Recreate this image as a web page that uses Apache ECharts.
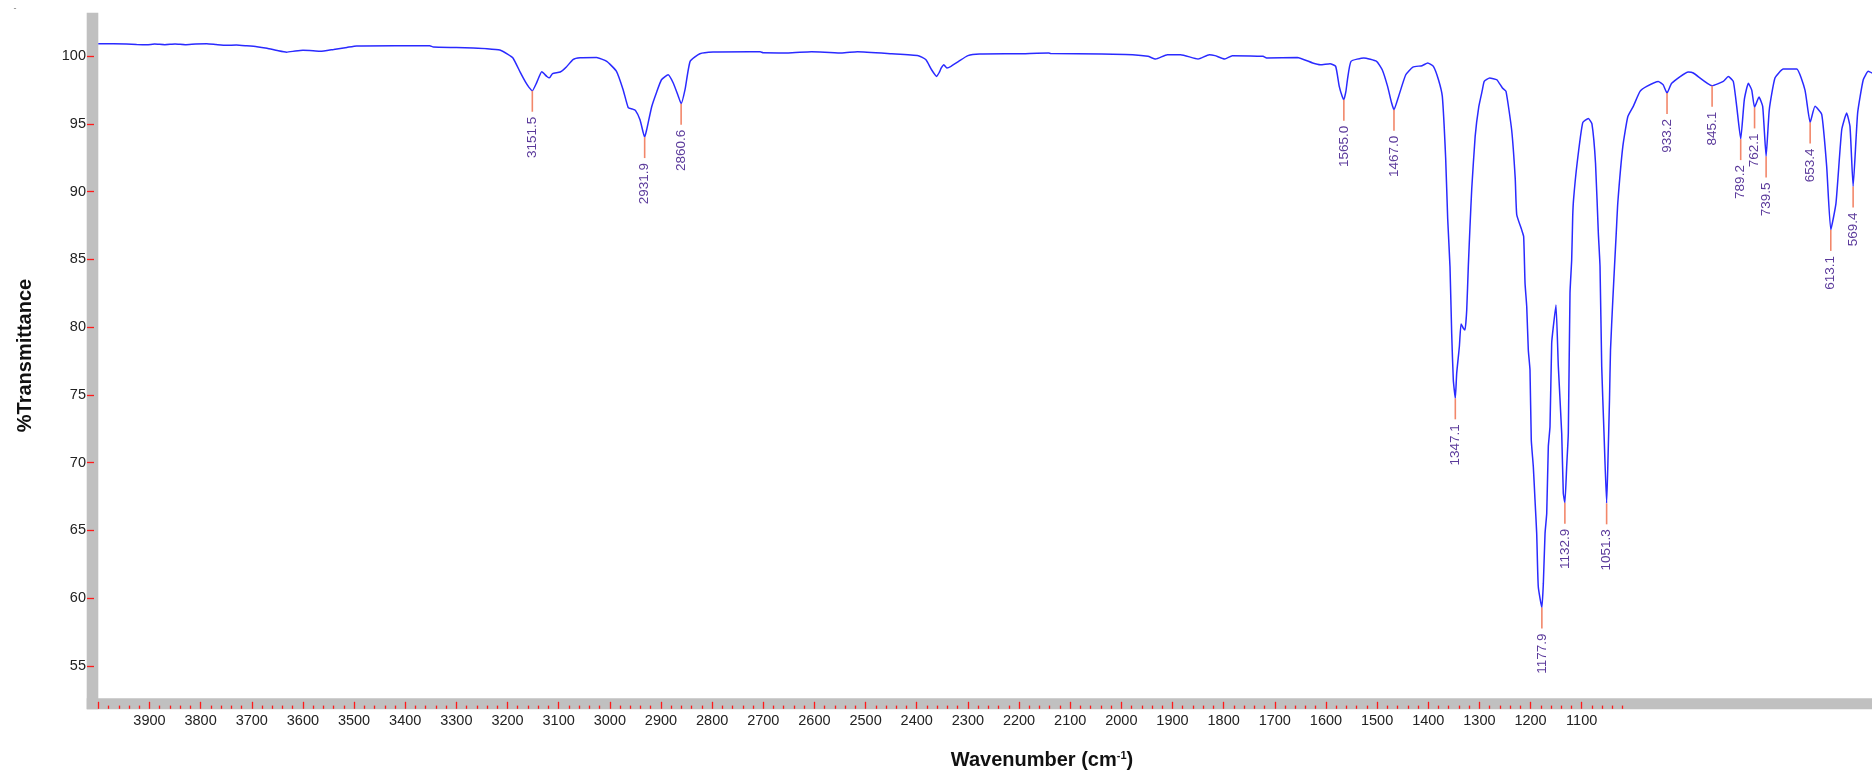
<!DOCTYPE html>
<html>
<head>
<meta charset="utf-8">
<script src="https://cdn.jsdelivr.net/npm/echarts@6/dist/echarts.min.js"></script>
<style>
  html, body { margin: 0; padding: 0; background: #fff; }
  #chart { width: 1872px; height: 776px; }
</style>
</head>
<body>
<div id="chart"></div>
<script>
// ---- data (wavenumber cm-1, %T) ----
const spectrumPoints = [
  [4000,100.92],[3970,100.92],[3945,100.9],[3925,100.86],[3905,100.84],[3890,100.9],[3870,100.85],[3850,100.9],
  [3830,100.85],[3810,100.9],[3788,100.92],[3770,100.86],[3750,100.8],[3730,100.83],[3710,100.77],[3690,100.7],
  [3670,100.58],[3650,100.42],[3632,100.3],[3615,100.38],[3600,100.43],[3580,100.4],[3566,100.36],[3540,100.5],
  [3514,100.65],[3495,100.76],[3420,100.78],[3352,100.77],[3345,100.68],[3300,100.64],[3267,100.6],[3240,100.55],
  [3215,100.45],[3200,100.15],[3189,99.85],[3175,98.8],[3165,98.1],[3158,97.7],[3151.5,97.45],[3143,98.05],
  [3133,98.85],[3123,98.5],[3118,98.4],[3112,98.72],[3097,98.83],[3085,99.2],[3072,99.75],[3058,99.88],
  [3026,99.9],[3006,99.62],[2987,98.88],[2974,97.53],[2964,96.2],[2956,96.1],[2950,96.0],[2941,95.31],
  [2935,94.4],[2931.9,94.03],[2928,94.57],[2918,96.29],[2908,97.4],[2899,98.26],[2886,98.63],[2876,98.02],
  [2866,97.03],[2860.6,96.49],[2853,97.53],[2843,99.62],[2824,100.18],[2798,100.31],[2726,100.33],[2706,100.32],
  [2700,100.25],[2651,100.24],[2606,100.33],[2580,100.3],[2546,100.24],[2516,100.33],[2449,100.18],[2397,100.04],
  [2382,99.74],[2371,99.0],[2361,98.51],[2356,98.8],[2352,99.13],[2347,99.37],[2341,99.13],[2333,99.25],
  [2318,99.62],[2300,100.04],[2277,100.16],[2202,100.18],[2142,100.24],[2138,100.2],[2038,100.16],[1978,100.11],
  [1948,99.99],[1933,99.79],[1910,100.11],[1884,100.11],[1850,99.79],[1828,100.11],[1817,100.04],[1798,99.79],
  [1783,100.04],[1723,99.99],[1716,99.87],[1656,99.91],[1626,99.5],[1611,99.37],[1592,99.45],[1581,99.25],
  [1574,97.77],[1568,97.0],[1565,96.79],[1561,97.4],[1558,98.26],[1551,99.62],[1526,99.87],[1501,99.62],
  [1490,99.0],[1479.5,97.77],[1472,96.6],[1467,96.05],[1458,97.03],[1444,98.63],[1430,99.2],[1412,99.3],
  [1401,99.5],[1390,99.25],[1380,98.26],[1372.5,97.03],[1366,92.5],[1362,88.0],[1357.5,84.47],[1354.2,79.55],
  [1351,76.1],[1347.1,74.75],[1344.4,76.6],[1339.2,78.56],[1335.9,80.24],[1331.4,79.92],[1328.1,79.8],[1324.8,81.27],
  [1321.7,84.47],[1318.4,87.43],[1315,90.2],[1308.3,94.08],[1301.1,96.29],[1294.1,97.53],[1290.6,98.14],[1280,98.39],
  [1266,98.26],[1255,97.65],[1248,97.4],[1237,94.57],[1230,91.0],[1227,88.3],[1217.3,87.18],[1213.5,86.69],
  [1210.8,83.25],[1207.5,81.52],[1204.4,78.32],[1201.1,76.84],[1198.6,71.67],[1194.6,69.7],[1191.3,67.24],[1188,64.78],
  [1184.9,60.84],[1177.9,59.31],[1175,61.09],[1171.7,64.78],[1168.4,66.26],[1165.3,71.18],[1162,72.66],[1158.7,78.82],
  [1155.5,80.04],[1150.3,81.64],[1145.7,77.09],[1139.1,72.17],[1136,67.74],[1132.9,67.04],[1129.4,69.7],[1126.2,72.17],
  [1122.9,82.51],[1119.6,84.97],[1117.6,88.17],[1116,89.4],[1109,92.1],[1098,95.1],[1087,95.4],[1080,95.0],
  [1073,92.1],[1067.5,86.94],[1064.2,84.47],[1060.9,77.09],[1056.4,72.17],[1051.3,67.0],[1049,69.7],[1045.7,74.63],
  [1043.7,78.32],[1039.2,82.0],[1035.9,84.47],[1032.5,86.94],[1029.4,89.2],[1019.6,93.34],[1009.8,95.55],[999.2,96.3],
  [986,97.4],[972.9,97.77],[950.2,98.14],[941,97.9],[933.2,97.28],[924.1,98.0],[891.6,98.83],[881.8,98.76],
  [845.1,97.82],[823.2,98.14],[813.4,98.5],[803.7,98.14],[797,96.3],[789.2,93.88],[782.1,96.8],[774.3,98.0],
  [767.6,97.5],[762.1,96.22],[753.4,96.98],[746.2,96.3],[739.5,92.6],[733.3,96.05],[722.2,98.39],[705.9,99.05],
  [679.7,99.05],[663.5,97.5],[653.4,95.11],[643.9,96.3],[630.8,95.7],[621.1,91.86],[613.1,87.18],[602.9,89.16],
  [591.7,94.57],[582,95.8],[575.5,94.8],[569.4,90.38],[560.6,95.8],[549.6,98.26],[539.8,98.88],[532.5,98.76]
];

const peakWavenumbers = [3151.5, 2931.9, 2860.6, 1565.0, 1467.0, 1347.1, 1177.9, 1132.9, 1051.3,
                         933.2, 845.1, 789.2, 762.1, 739.5, 653.4, 613.1, 569.4];
const peakTransmittance = [97.45, 94.03, 96.49, 96.79, 96.05, 74.75, 59.31, 67.04, 67.0,
                           97.28, 97.82, 93.88, 96.22, 92.6, 95.11, 87.18, 90.38];
const peakLabels = ['3151.5','2931.9','2860.6','1565.0','1467.0','1347.1','1177.9','1132.9','1051.3',
                    '933.2','845.1','789.2','762.1','739.5','653.4','613.1','569.4'];

const xTickLabels = [3900,3800,3700,3600,3500,3400,3300,3200,3100,3000,2900,2800,2700,2600,2500,
                     2400,2300,2200,2100,2000,1900,1800,1700,1600,1500,1400,1300,1200,1100];
const xMajorTicks = [4000].concat(xTickLabels);
const xMinorTicks = [];
for (let v = 3980; v >= 1020; v -= 20) { if (v % 100 !== 0) xMinorTicks.push(v); }
const yTickLabels = [55,60,65,70,75,80,85,90,95,100];

const X_MIN = 532.5, X_MAX = 4000, Y_MIN = 52.61, Y_MAX = 103.21;
const FONT = "'Liberation Sans', Arial, sans-serif";
const TICK_RED = '#ff1a1a';
const GRAY = '#c0c0c0';

const chart = echarts.init(document.getElementById('chart'), null, { renderer: 'canvas' });

const baseX = { type: 'value', min: X_MIN, max: X_MAX, inverse: true, position: 'bottom',
                splitLine: { show: false }, axisLine: { show: false } };
const plainNumber = v => String(v);

chart.setOption({
  animation: false,
  backgroundColor: '#ffffff',
  grid: { left: 98.3, right: 0, top: 12.7, bottom: 77.7, containLabel: false },
  xAxis: [
    Object.assign({}, baseX, { axisTick: { show: false }, axisLabel: { show: false } }),
    Object.assign({}, baseX, {
      offset: 10.5, z: 5,
      axisTick: { show: true, inside: true, length: 7, customValues: xMajorTicks,
                  lineStyle: { color: TICK_RED, width: 1.3 } },
      axisLabel: { show: true, customValues: xTickLabels, margin: 5, fontSize: 14.5,
                   fontFamily: FONT, color: '#222', formatter: plainNumber }
    }),
    Object.assign({}, baseX, {
      offset: 10.5, z: 5,
      axisTick: { show: true, inside: true, length: 3.2, customValues: xMinorTicks,
                  lineStyle: { color: TICK_RED, width: 1.3 } },
      axisLabel: { show: false }
    })
  ],
  yAxis: [{
    type: 'value', min: Y_MIN, max: Y_MAX, offset: 11.3, z: 5,
    splitLine: { show: false }, axisLine: { show: false },
    axisTick: { show: true, inside: true, length: 7, customValues: yTickLabels,
                lineStyle: { color: TICK_RED, width: 1.3 } },
    axisLabel: { show: true, customValues: yTickLabels, margin: 1, fontSize: 14.5,
                 fontFamily: FONT, color: '#222', formatter: plainNumber },
    name: '%Transmittance', nameLocation: 'middle', nameGap: 52, nameRotate: 90,
    nameTextStyle: { fontFamily: FONT, fontWeight: 'bold', fontSize: 20, color: '#111' }
  }],
  graphic: [
    { type: 'rect', z: 0, silent: true, shape: { x: 86.7, y: 12.7, width: 11.6, height: 696.6 },
      style: { fill: GRAY } },
    { type: 'rect', z: 0, silent: true, shape: { x: 86.7, y: 698.3, width: 1785.3, height: 11 },
      style: { fill: GRAY } },
    { type: 'text', z: 10, x: 15, y: 9,
      style: { text: '-', align: 'center', verticalAlign: 'middle',
               font: "9px 'Liberation Sans', Arial, sans-serif", fill: '#777' } },
    { type: 'text', z: 10, x: 1042, y: 760,
      style: { text: 'Wavenumber (cm{sup|-1})', align: 'center', verticalAlign: 'middle',
               font: "bold 20px 'Liberation Sans', Arial, sans-serif", fill: '#111',
               rich: { sup: { fontSize: 11, fontWeight: 'bold', fontFamily: FONT,
                              verticalAlign: 'top', padding: [0, 0, 9, 0], fill: '#111' } } } }
  ],
  series: [
    {
      type: 'line', xAxisIndex: 0, yAxisIndex: 0, z: 3,
      data: spectrumPoints, showSymbol: false, smooth: 0.15,
      lineStyle: { color: '#2a2aff', width: 1.5 }, silent: true
    },
    {
      type: 'custom', xAxisIndex: 0, yAxisIndex: 0, z: 4, silent: true,
      data: peakWavenumbers.map((w, i) => [w, peakTransmittance[i]]),
      renderItem: function (params, api) {
        const p = api.coord([api.value(0), api.value(1)]);
        const len = 21, gap = 5;
        return {
          type: 'group',
          children: [
            { type: 'line', shape: { x1: p[0], y1: p[1], x2: p[0], y2: p[1] + len },
              style: { stroke: '#f2876a', lineWidth: 1.6 } },
            { type: 'text', x: p[0], y: p[1] + len + gap, rotation: Math.PI / 2,
              style: { text: peakLabels[params.dataIndex], align: 'right', verticalAlign: 'middle',
                       fill: '#5b3a9b', font: "13.5px 'Liberation Sans', Arial, sans-serif" } }
          ]
        };
      }
    }
  ]
});
</script>
</body>
</html>
